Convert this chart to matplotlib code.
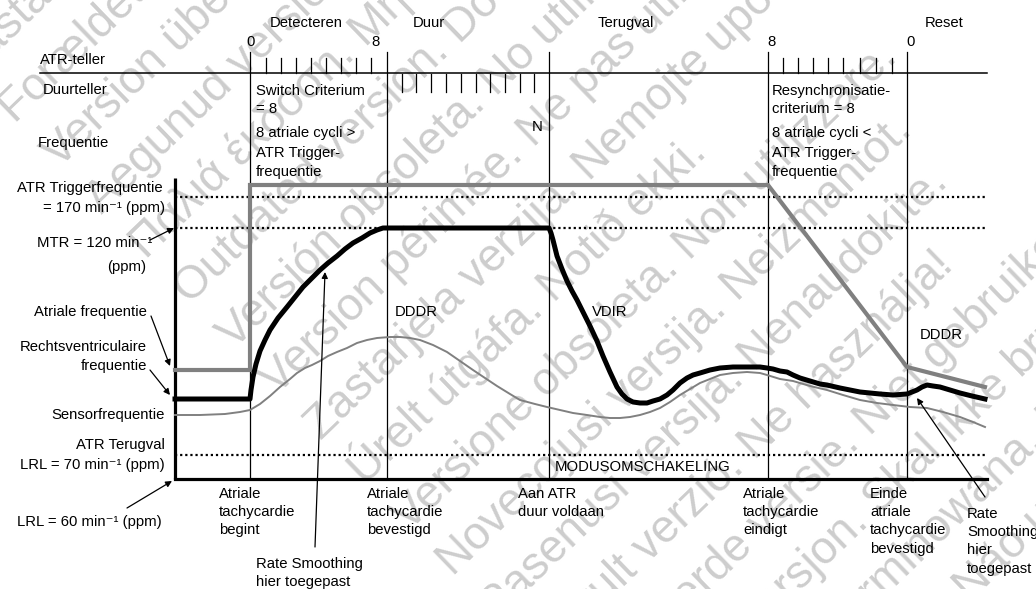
import numpy as np
import matplotlib.pyplot as plt

plt.rcParams['font.family'] = ['Liberation Sans', 'DejaVu Sans']

################################################################################
# DATA (diagram units: x = time axis, y = rate position, measured off the chart)
################################################################################

# event moments (vertical markers)
event_t = [250, 387, 549, 768, 907]
axis_start, axis_end = 175, 987

# reference rate levels
level_trigger = 197   # ATR Triggerfrequentie 170 ppm
level_mtr = 228       # MTR 120 ppm
level_atr_lrl = 455   # ATR Terugval LRL 70 ppm
level_lrl = 479       # LRL 60 ppm (baseline)

# atrial rate (thick grey)
atrial_t = [175, 250, 250, 768, 907, 985]
atrial_v = [370, 370, 185, 185, 367, 387]

# paced ventricular rate (thick black)
vent_t = [175, 250, 251, 253, 256, 260, 265, 270, 278, 287, 295, 303, 312, 320,
          328, 337, 345, 353, 362, 370, 377, 383, 387,
          549, 551, 553, 557, 562, 567, 572, 577, 583, 590, 597, 603, 610, 617,
          622, 627, 633, 640, 647, 653, 660, 667, 673, 680, 687, 693, 700, 710,
          720, 733, 747, 760, 767, 773, 780, 787, 793, 800, 810, 820, 827, 840,
          850, 860, 870, 880, 893, 900, 907, 912, 917, 922, 927, 933, 940, 950,
          960, 972, 985]
vent_v = [399, 399, 390, 377, 364, 351, 340, 330, 318, 307, 297, 287, 278, 270,
          263, 256, 249, 243, 238, 233, 230, 228, 228,
          228, 233, 240, 256, 269, 281, 291, 300, 312, 326, 341, 356, 372, 387,
          394, 399, 402, 403, 403, 401, 399, 395, 390, 383, 378, 375, 373, 370,
          368, 367, 367, 367, 368, 369, 371, 372, 375, 378, 381, 384, 385, 388,
          390, 392, 393, 394, 395, 394.5, 394, 392, 390, 387, 385, 386, 387, 390,
          393, 396, 399]

# sensor rate (thin grey)
sensor_t = [175, 200, 225, 240, 250, 260, 270, 280, 290, 297, 305, 312, 320, 328,
            337, 347, 357, 367, 377, 390, 400, 410, 420, 433, 447, 460, 473, 485,
            497, 510, 520, 535, 547, 560, 573, 587, 600, 610, 620, 630, 640, 650,
            660, 670, 680, 690, 700, 710, 720, 733, 747, 760, 767, 780, 793, 810,
            827, 843, 860, 877, 893, 910, 927, 943, 960, 973, 985]
sensor_v = [415, 415, 414, 412, 410, 404, 396, 387, 379, 373, 368, 365, 361, 356,
            352, 348, 343, 340, 338, 337, 337, 338, 340, 345, 352, 361, 370, 378,
            386, 394, 400, 404, 407, 410, 413, 415, 417, 418, 418, 417, 415, 412,
            408, 402, 395, 389, 383, 379, 375, 373, 372, 373, 375, 379, 381, 386,
            390, 395, 400, 403, 405, 407, 408, 412, 417, 422, 427]

# counter ticks
atr_ticks = [266, 281, 296, 311, 326, 341, 356, 371, 783, 798, 813, 828, 843, 860, 876, 892]
duur_ticks = [402, 416, 431, 446, 461, 476, 490, 505, 520, 534]

# watermark lines
watermark = [
    "Zastaralá verze. Nepoužívat.",
    "Forældet version. Må ikke anvendes.",
    "Version überholt. Nicht verwenden.",
    "Aegunud versioon. Ärge kasutage.",
    "Παλιά έκδοση. Μην την χρησιμοποιείτε.",
    "Outdated version. Do not use.",
    "Versión obsoleta. No utilizar.",
    "Version périmée. Ne pas utiliser.",
    "Zastarjela verzija. Nemojte upotrebljavati.",
    "Úrelt útgáfa. Notið ekki.",
    "Versione obsoleta. Non utilizzare.",
    "Novecojusi versija. Neizmantot.",
    "Pasenusi versija. Nenaudokite.",
    "Elavult verzió. Ne használja!",
    "Verouderde versie. Niet gebruiken.",
    "Utdatert versjon. Skal ikke brukes.",
    "Wersja przeterminowana. Nie używać.",
    "Versão obsoleta. Não utilize.",
    "Versiune expirată. A nu se utiliza.",
    "Zastaraná verzia. Nepoužívať.",
    "Zastarela različica. Ne uporabite.",
    "Vanhentunut versio. Älä käytä.",
]

################################################################################
# FIGURE
################################################################################

fig = plt.figure(figsize=(10.36, 5.89), dpi=100)
ax = fig.add_axes([0, 0, 1, 1])
ax.set_xlim(0, 1036)
ax.set_ylim(589, 0)
ax.axis('off')

FS = 10.7
GREY = '#808080'

# watermark
ang = 44
a = np.radians(ang)
n = np.array([np.sin(a), np.cos(a)])
start = np.array([190.0, 305.0])
for i, line in enumerate(watermark):
    p = start + (i - 5) * 63 * n
    ax.text(p[0], p[1], line, rotation=ang, rotation_mode='anchor', ha='left',
            va='baseline', fontsize=33, color='#cdcdcd', zorder=0)

# frame lines
ax.plot([40, axis_end], [73, 73], color='black', lw=1.1, zorder=2)
ax.plot([axis_start, axis_start], [178, level_lrl], color='black', lw=2.3, zorder=3,
        solid_capstyle='butt')
ax.plot([axis_start, axis_end], [level_lrl, level_lrl], color='black', lw=2.3, zorder=3)
for t in event_t:
    ax.plot([t, t], [52, level_lrl], color='black', lw=0.9, zorder=2)
for t in atr_ticks:
    ax.plot([t, t], [58, 73], color='black', lw=0.9, zorder=2)
for t in duur_ticks:
    ax.plot([t, t], [74, 92], color='black', lw=0.9, zorder=2)

# dotted levels
for lv in [level_trigger, level_mtr, level_atr_lrl]:
    ax.plot([axis_start, axis_end], [lv, lv], color='black', lw=1.6,
            linestyle=(0, (1, 1.3)), zorder=2)

# curves
ax.plot(sensor_t, sensor_v, color=GREY, lw=1.4, zorder=4)
ax.plot(atrial_t, atrial_v, color=GREY, lw=3.0, zorder=4, solid_joinstyle='miter')
ax.plot(vent_t, vent_v, color='black', lw=3.6, zorder=5, solid_joinstyle='round')

# top labels
for x, s in [(270, 'Detecteren'), (413, 'Duur'), (598, 'Terugval'), (925, 'Reset')]:
    ax.text(x, 23, s, fontsize=FS, ha='left', va='center')
for x, s in [(251, '0'), (375, '8'), (771, '8'), (911, '0')]:
    ax.text(x, 42, s, fontsize=FS, ha='center', va='center')
ax.text(537, 127, 'N', fontsize=FS, ha='center', va='center')

ax.text(40, 60, 'ATR-teller', fontsize=FS, ha='left', va='center')
ax.text(43, 90, 'Duurteller', fontsize=FS, ha='left', va='center')
ax.text(38, 143, 'Frequentie', fontsize=FS, ha='left', va='center')

ax.text(256, 84, 'Switch Criterium\n= 8', fontsize=FS, ha='left', va='top',
        linespacing=1.35)
ax.text(256, 126, '8 atriale cycli >\nATR Trigger-\nfrequentie', fontsize=FS,
        ha='left', va='top', linespacing=1.5)
ax.text(772, 84, 'Resynchronisatie-\ncriterium = 8', fontsize=FS, ha='left',
        va='top', linespacing=1.35)
ax.text(772, 126, '8 atriale cycli <\nATR Trigger-\nfrequentie', fontsize=FS,
        ha='left', va='top', linespacing=1.5)

# left labels
left = [(163, 188, 'ATR Triggerfrequentie'), (165, 208, '= 170 min⁻¹ (ppm)'),
        (152, 243, 'MTR = 120 min⁻¹'), (146, 267, '(ppm)'),
        (147, 312, 'Atriale frequentie'), (147, 347, 'Rechtsventriculaire'),
        (147, 366, 'frequentie'), (165, 415, 'Sensorfrequentie'),
        (165, 445, 'ATR Terugval'), (165, 465, 'LRL = 70 min⁻¹ (ppm)')]
for x, y, s in left:
    ax.text(x, y, s, fontsize=FS, ha='right', va='center')
ax.text(17, 522, 'LRL = 60 min⁻¹ (ppm)', fontsize=FS, ha='left', va='center')

# mode labels
ax.text(395, 312, 'DDDR', fontsize=FS, ha='left', va='center')
ax.text(592, 312, 'VDIR', fontsize=FS, ha='left', va='center')
ax.text(920, 335, 'DDDR', fontsize=FS, ha='left', va='center')
ax.text(555, 467, 'MODUSOMSCHAKELING', fontsize=FS, ha='left', va='center')

# bottom labels
bottom = [(219, 'Atriale\ntachycardie\nbegint'), (367, 'Atriale\ntachycardie\nbevestigd'),
          (518, 'Aan ATR\nduur voldaan'), (743, 'Atriale\ntachycardie\neindigt'),
          (870, 'Einde\natriale\ntachycardie\nbevestigd')]
for x, s in bottom:
    ax.text(x, 487, s, fontsize=FS, ha='left', va='top', linespacing=1.38)
ax.text(967, 507, 'Rate\nSmoothing\nhier\ntoegepast', fontsize=FS, ha='left', va='top',
        linespacing=1.38)
ax.text(256, 557, 'Rate Smoothing\nhier toegepast', fontsize=FS, ha='left', va='top',
        linespacing=1.38)

# arrows
arrows = [((150, 240), (174, 228)), ((151, 316), (170, 366)), ((150, 370), (170, 395)),
          ((127, 508), (172, 481)), ((315, 547), (325, 272)), ((985, 497), (917, 398))]
for (x0, y0), (x1, y1) in arrows:
    ax.annotate('', xy=(x1, y1), xytext=(x0, y0),
                arrowprops=dict(arrowstyle='-|>', color='black', lw=0.9,
                                mutation_scale=9, shrinkA=0, shrinkB=0), zorder=6)

fig.savefig('out.png', dpi=100)
